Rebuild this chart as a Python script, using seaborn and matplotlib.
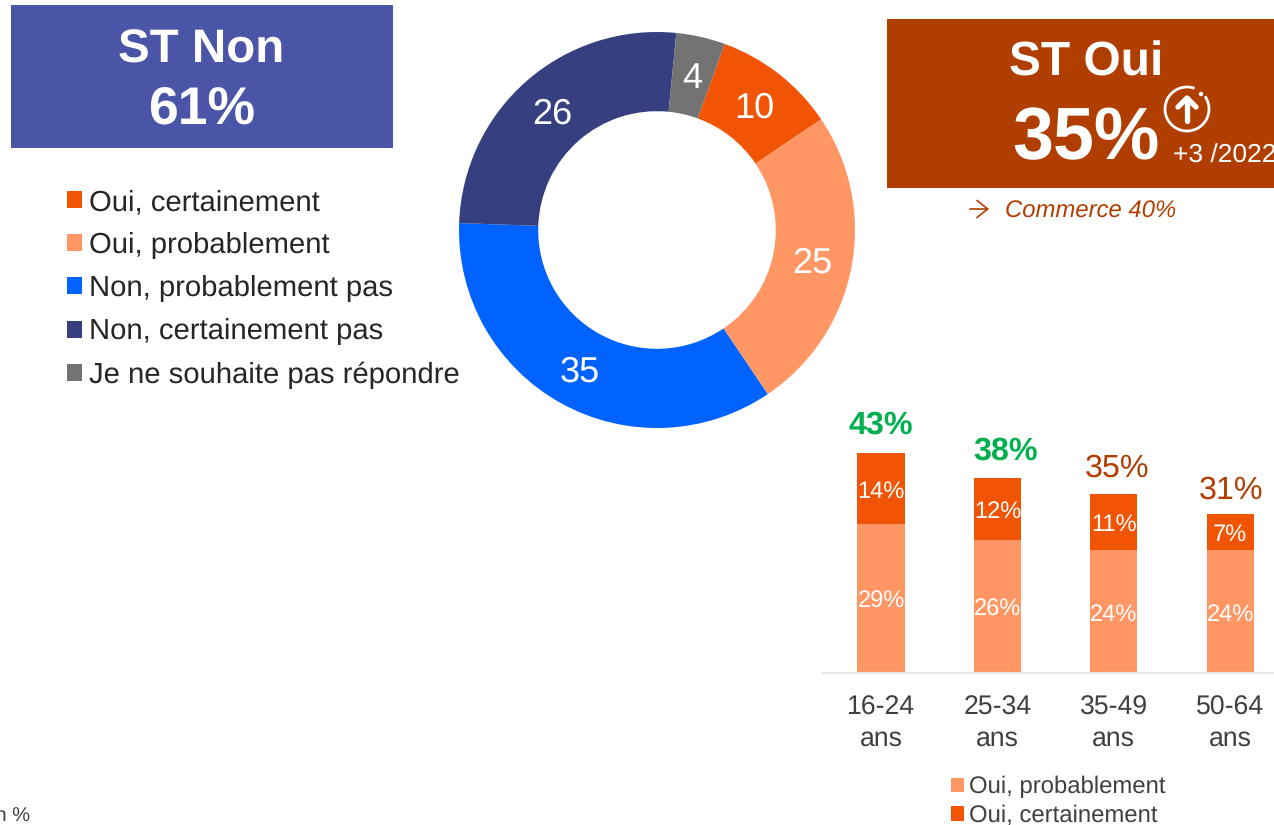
import matplotlib
matplotlib.use("Agg")
import matplotlib.pyplot as plt
from matplotlib.patches import Rectangle, Arc, Circle, Patch
import seaborn as sns
import pandas as pd

donut_labels = ["Oui, certainement", "Oui, probablement", "Non, probablement pas",
                "Non, certainement pas", "Je ne souhaite pas répondre"]
donut_values = [10, 25, 35, 26, 4]
donut_colors = ["#F25405", "#FF9664", "#0062FF", "#363F7F", "#737373"]

age_groups = ["16-24\nans", "25-34\nans", "35-49\nans", "50-64\nans"]
oui_probablement = [29, 26, 24, 24]
oui_certainement = [14, 12, 11, 7]
total_labels = ["43%", "38%", "35%", "31%"]
total_values = [43, 38, 35, 31]
total_colors = ["#00B050", "#00B050", "#B03E00", "#B03E00"]
total_bold = ["bold", "bold", "normal", "normal"]
total_dx = [0, 8, 3, 1]
total_dy = [8.6, 8.6, 7.1, 6.1]

sns.set_theme(style="white")
plt.rcParams["font.family"] = ["Liberation Sans", "DejaVu Sans"]
plt.rcParams["text.hinting"] = "no_hinting"
plt.rcParams["text.hinting_factor"] = 8

W, H = 1274, 825
fig = plt.figure(figsize=(W / 100, H / 100), dpi=100)


def px_axes(left, top, right, bottom, **kw):
    return fig.add_axes([left / W, 1 - bottom / H, (right - left) / W, (bottom - top) / H], **kw)


# overlay in pixel coordinates for boxes and free text
bg = px_axes(0, 0, W, H)
bg.set_xlim(0, W)
bg.set_ylim(H, 0)
bg.axis("off")
bg.add_patch(Rectangle((11, 5), 382, 143, color="#4A55A8", lw=0))
bg.add_patch(Rectangle((887, 19), 400, 169, color="#B03E00", lw=0))
bg.text(201.5, 62.5, "ST Non", color="white", fontsize=34.2, fontweight="bold", ha="center", va="baseline")
bg.text(202, 123, "61%", color="white", fontsize=38.5, fontweight="bold", ha="center", va="baseline")
bg.text(1086.5, 76, "ST Oui", color="white", fontsize=34.5, fontweight="bold", ha="center", va="baseline")
bg.text(1086.5, 159, "35%", color="white", fontsize=53, fontweight="bold", ha="center", va="baseline")
bg.text(1173, 163, "+3 /2022", color="white", fontsize=19, ha="left", va="baseline")
bg.text(1005, 218, "Commerce 40%", color="#B03E00", fontsize=17.2, style="italic", ha="left", va="baseline")
bg.annotate("", xy=(989, 209), xytext=(970, 209),
            arrowprops=dict(arrowstyle="->,head_length=0.35,head_width=0.28", color="#B03E00", lw=1.2,
                            mutation_scale=22, shrinkA=0, shrinkB=0))
bg.text(30, 822, "En %", color="#404040", fontsize=14.5, ha="right", va="baseline")

# up-arrow icon
bg.add_patch(Arc((1187, 109), 44, 44, theta1=-35, theta2=290, color="white", lw=2))
bg.add_patch(Circle((1201, 94), 2.2, color="white", lw=0))
bg.plot([1187, 1187], [121, 98], color="white", lw=3.8, solid_capstyle="round")
bg.plot([1178, 1187, 1196], [107, 98, 107], color="white", lw=3.8,
        solid_capstyle="round", solid_joinstyle="round")

# donut
R = 198
dn = px_axes(657 - R, 230 - R, 657 + R, 230 + R)
wedges, _, autotexts = dn.pie(
    donut_values, colors=donut_colors, startangle=70, counterclock=False,
    radius=1, wedgeprops=dict(width=0.4, linewidth=0),
    autopct="%.0f", pctdistance=0.8, textprops=dict(color="white", fontsize=26),
)
for t in autotexts:
    x, y = t.get_position()
    t.set_position((x, y - 3.5 / R))
dn.set_xlim(-1, 1)
dn.set_ylim(-1, 1)
dn.patch.set_alpha(0)

fig.legend(wedges, donut_labels, loc="upper left", bbox_to_anchor=(67 / W, 1 - 189 / H),
           bbox_transform=fig.transFigure, frameon=False, fontsize=21.1, handlelength=0.52,
           handleheight=0.52, handletextpad=0.23, labelspacing=0.55, borderpad=0, borderaxespad=0,
           labelcolor="#262626")

# stacked bars
ax = px_axes(823, 400, W, 673)
df = pd.DataFrame({"age": age_groups, "prob": oui_probablement, "cert": oui_certainement})
sns.barplot(data=df, x="age", y="prob", color="#FF9664", saturation=1, width=0.405, ax=ax, linewidth=0)
sns.barplot(data=df, x="age", y="cert", bottom=df["prob"], color="#F25405", saturation=1,
            width=0.405, ax=ax, linewidth=0)
for c in ax.containers:
    labels = ax.bar_label(c, fmt="%g%%", label_type="center", color="white", fontsize=17)
    for t in labels:
        x, y = t.xyann
        t.xyann = (x, y - 2.2)
ax.set_xlim(-0.498, 3.376)
ax.set_ylim(0, 273 / 5.125)
ax.set_xlabel("")
ax.set_ylabel("")
ax.set_yticks([])
ax.patch.set_alpha(0)
for s in ["top", "left", "right"]:
    ax.spines[s].set_visible(False)
ax.spines["bottom"].set_color("#E6E6E6")
ax.spines["bottom"].set_linewidth(1.6)
ax.tick_params(axis="x", length=0, pad=16, labelsize=19.2, labelcolor="#404040")
for lb in ax.get_xticklabels():
    lb.set_linespacing(1.3)

for i, (val, txt, col, wgt, dx, dy) in enumerate(zip(total_values, total_labels, total_colors, total_bold,
                                                     total_dx, total_dy)):
    ax.annotate(txt, xy=(i, val), xytext=(dx * 0.72, dy), textcoords="offset points", ha="center",
                va="bottom", color=col, fontweight=wgt, fontsize=23.2, annotation_clip=False)

handles = [Patch(color="#FF9664", lw=0), Patch(color="#F25405", lw=0)]
fig.legend(handles, ["Oui, probablement", "Oui, certainement"], loc="upper left",
           bbox_to_anchor=(951 / W, 1 - 776 / H), bbox_transform=fig.transFigure, frameon=False,
           fontsize=17.2, handlelength=0.54, handleheight=0.54, handletextpad=0.2, labelspacing=0.26,
           borderpad=0, borderaxespad=0, labelcolor="#404040")

fig.savefig("out.png", dpi=100)
